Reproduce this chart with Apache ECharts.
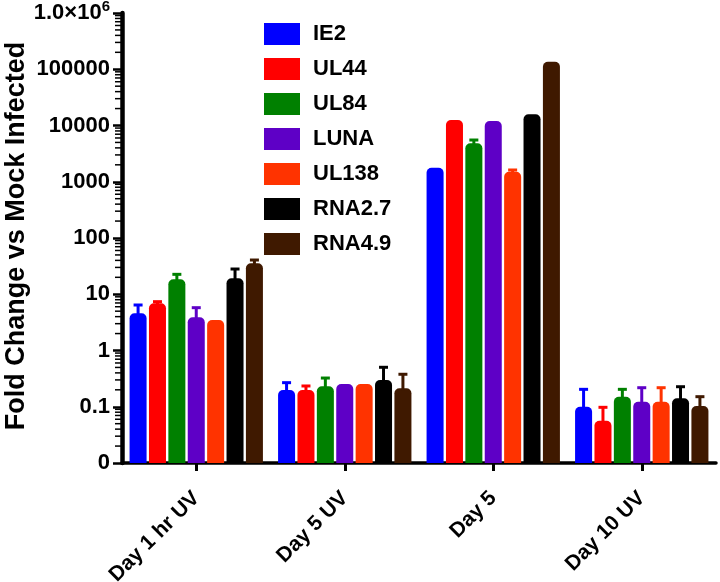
<!DOCTYPE html>
<html>
<head>
<meta charset="utf-8">
<script src="https://cdn.jsdelivr.net/npm/echarts@6/dist/echarts.min.js"></script>
<style>html,body{margin:0;padding:0;background:#fff}#c{width:720px;height:582px}</style>
</head>
<body>
<div id="c"></div>
<script>
const categories = ['Day 1 hr UV', 'Day 5 UV', 'Day 5', 'Day 10 UV'];
const seriesNames = ['IE2', 'UL44', 'UL84', 'LUNA', 'UL138', 'RNA2.7', 'RNA4.9'];
const colors = ['#0000FF', '#FF0000', '#008000', '#5E00C6', '#FF3300', '#000000', '#3F1900'];
const yTitle = 'Fold Change vs Mock Infected';

// mean fold change per series, per category
const IE2    = [4.58, 0.199, 1778, 0.100];
const UL44   = [6.90, 0.199, 12530, 0.0565];
const UL84   = [18.4, 0.231, 4830, 0.151];
const LUNA   = [3.89, 0.254, 12030, 0.123];
const UL138  = [3.49, 0.254, 1510, 0.123];
const RNA2_7 = [19.2, 0.299, 15810, 0.141];
const RNA4_9 = [35.5, 0.213, 136200, 0.103];

// upper end of error bars (null = none visible)
const IE2_err    = [6.44, 0.268, null, 0.204];
const UL44_err   = [7.38, 0.234, null, 0.0977];
const UL84_err   = [22.6, 0.324, 5520, 0.204];
const LUNA_err   = [5.77, null, null, 0.218];
const UL138_err  = [null, null, 1618, 0.218];
const RNA2_7_err = [28.1, 0.503, null, 0.227];
const RNA4_9_err = [40.6, 0.378, null, 0.151];

const yTickValues = [0.01, 0.1, 1, 10, 100, 1000, 10000, 100000, 1000000];
const yTickLabels = ['0', '0.1', '1', '10', '100', '1000', '10000', '100000', '1.0×10{sup|6}'];
const minorMultipliers = [2, 3, 4, 5, 6, 7, 8, 9];

const values = [IE2, UL44, UL84, LUNA, UL138, RNA2_7, RNA4_9];
const errs = [IE2_err, UL44_err, UL84_err, LUNA_err, UL138_err, RNA2_7_err, RNA4_9_err];

const FONT = '"Liberation Sans", Arial, Helvetica, sans-serif';
const CAT_GAP = 0.102;
const BAR_GAP = 0.14;

const series = [];
seriesNames.forEach((n, si) => {
  series.push({
    type: 'bar',
    name: n,
    data: values[si],
    barCategoryGap: (CAT_GAP * 100) + '%',
    barGap: (BAR_GAP * 100) + '%',
    itemStyle: { color: colors[si], borderRadius: [5, 5, 0, 0] },
    emphasis: { disabled: true },
    z: 2
  });
});
seriesNames.forEach((n, si) => {
  series.push({
    type: 'custom',
    name: n + ' err',
    data: categories.map((c, i) => [i, values[si][i], errs[si][i] == null ? 0 : errs[si][i]]),
    z: 3,
    silent: true,
    renderItem: function (params, api) {
      const ci = api.value(0), v = api.value(1), e = api.value(2);
      if (!e || e <= v) return null;
      const band = api.coord([1, 1])[0] - api.coord([0, 1])[0];
      const groupW = band * (1 - CAT_GAP);
      const bw = groupW / (7 + 6 * BAR_GAP);
      const p0 = api.coord([ci, v]);
      const p1 = api.coord([ci, e]);
      const cx = p0[0] - groupW / 2 + bw / 2 + si * bw * (1 + BAR_GAP);
      return {
        type: 'group',
        children: [
          { type: 'line', shape: { x1: cx, y1: p0[1] + 2, x2: cx, y2: p1[1] }, style: { stroke: colors[si], lineWidth: 3 } },
          { type: 'line', shape: { x1: cx - 4.5, y1: p1[1], x2: cx + 4.5, y2: p1[1] }, style: { stroke: colors[si], lineWidth: 3 } }
        ]
      };
    }
  });
});

// log-spaced minor ticks on the y axis (2..9 x 10^k)
const minorTickData = [];
for (let k = -2; k < 6; k++) {
  minorMultipliers.forEach(m => minorTickData.push([0, m * Math.pow(10, k)]));
}
series.push({
  type: 'custom',
  name: 'minor ticks',
  data: minorTickData,
  silent: true,
  clip: false,
  z: 1,
  renderItem: function (params, api) {
    const band = api.coord([1, 1])[0] - api.coord([0, 1])[0];
    const p = api.coord([0, api.value(1)]);
    const x0 = p[0] - band / 2;
    return { type: 'line', shape: { x1: x0 - 7, y1: p[1], x2: x0, y2: p[1] }, style: { stroke: '#000', lineWidth: 1.5 } };
  }
});

const chart = echarts.init(document.getElementById('c'), null, { renderer: 'canvas' });
chart.setOption({
  animation: false,
  backgroundColor: '#ffffff',
  textStyle: { fontFamily: FONT },
  grid: { left: 122, right: 4, top: 13, bottom: 119, containLabel: false, outerBoundsMode: 'none' },
  graphic: [{
    type: 'text',
    x: 17,
    y: 236,
    rotation: Math.PI / 2,
    silent: true,
    style: {
      text: yTitle,
      fontFamily: FONT, fontSize: 27, fontWeight: 'bold', fill: '#000',
      align: 'center', verticalAlign: 'middle'
    }
  }],
  legend: {
    data: seriesNames,
    orient: 'vertical',
    left: 259,
    top: 18,
    icon: 'rect',
    itemWidth: 36,
    itemHeight: 22,
    itemGap: 13,
    selectedMode: false,
    textStyle: { fontFamily: FONT, fontSize: 22, fontWeight: 'bold', color: '#000', padding: [0, 0, 0, 8], lineHeight: 22 }
  },
  xAxis: {
    type: 'category',
    data: categories,
    axisLine: { lineStyle: { color: '#000', width: 3.5 } },
    axisTick: { show: true, alignWithLabel: true, length: 8, lineStyle: { color: '#000', width: 3 } },
    axisLabel: { rotate: 45, margin: 32, fontFamily: FONT, fontSize: 21, fontWeight: 'bold', color: '#000', interval: 0 },
    splitLine: { show: false }
  },
  yAxis: {
    type: 'log',
    logBase: 10,
    min: 0.01,
    max: 1000000,
    startValue: 0.01,
    splitNumber: 8,
    axisLine: { show: true, lineStyle: { color: '#000', width: 4.5 } },
    axisTick: { show: true, length: 9, lineStyle: { color: '#000', width: 2.5 } },
    minorTick: { show: false },
    splitLine: { show: false },
    minorSplitLine: { show: false },
    axisLabel: {
      margin: 12,
      fontFamily: FONT, fontSize: 22, fontWeight: 'bold', color: '#000',
      formatter: function (val) {
        const k = Math.round(Math.log10(val));
        const idx = yTickValues.findIndex(t => Math.round(Math.log10(t)) === k);
        return idx >= 0 ? yTickLabels[idx] : '';
      },
      rich: {
        sup: { fontFamily: FONT, fontSize: 15, fontWeight: 'bold', color: '#000', padding: [0, 0, 12, 0] }
      }
    }
  },
  series: series
});
</script>
</body>
</html>
